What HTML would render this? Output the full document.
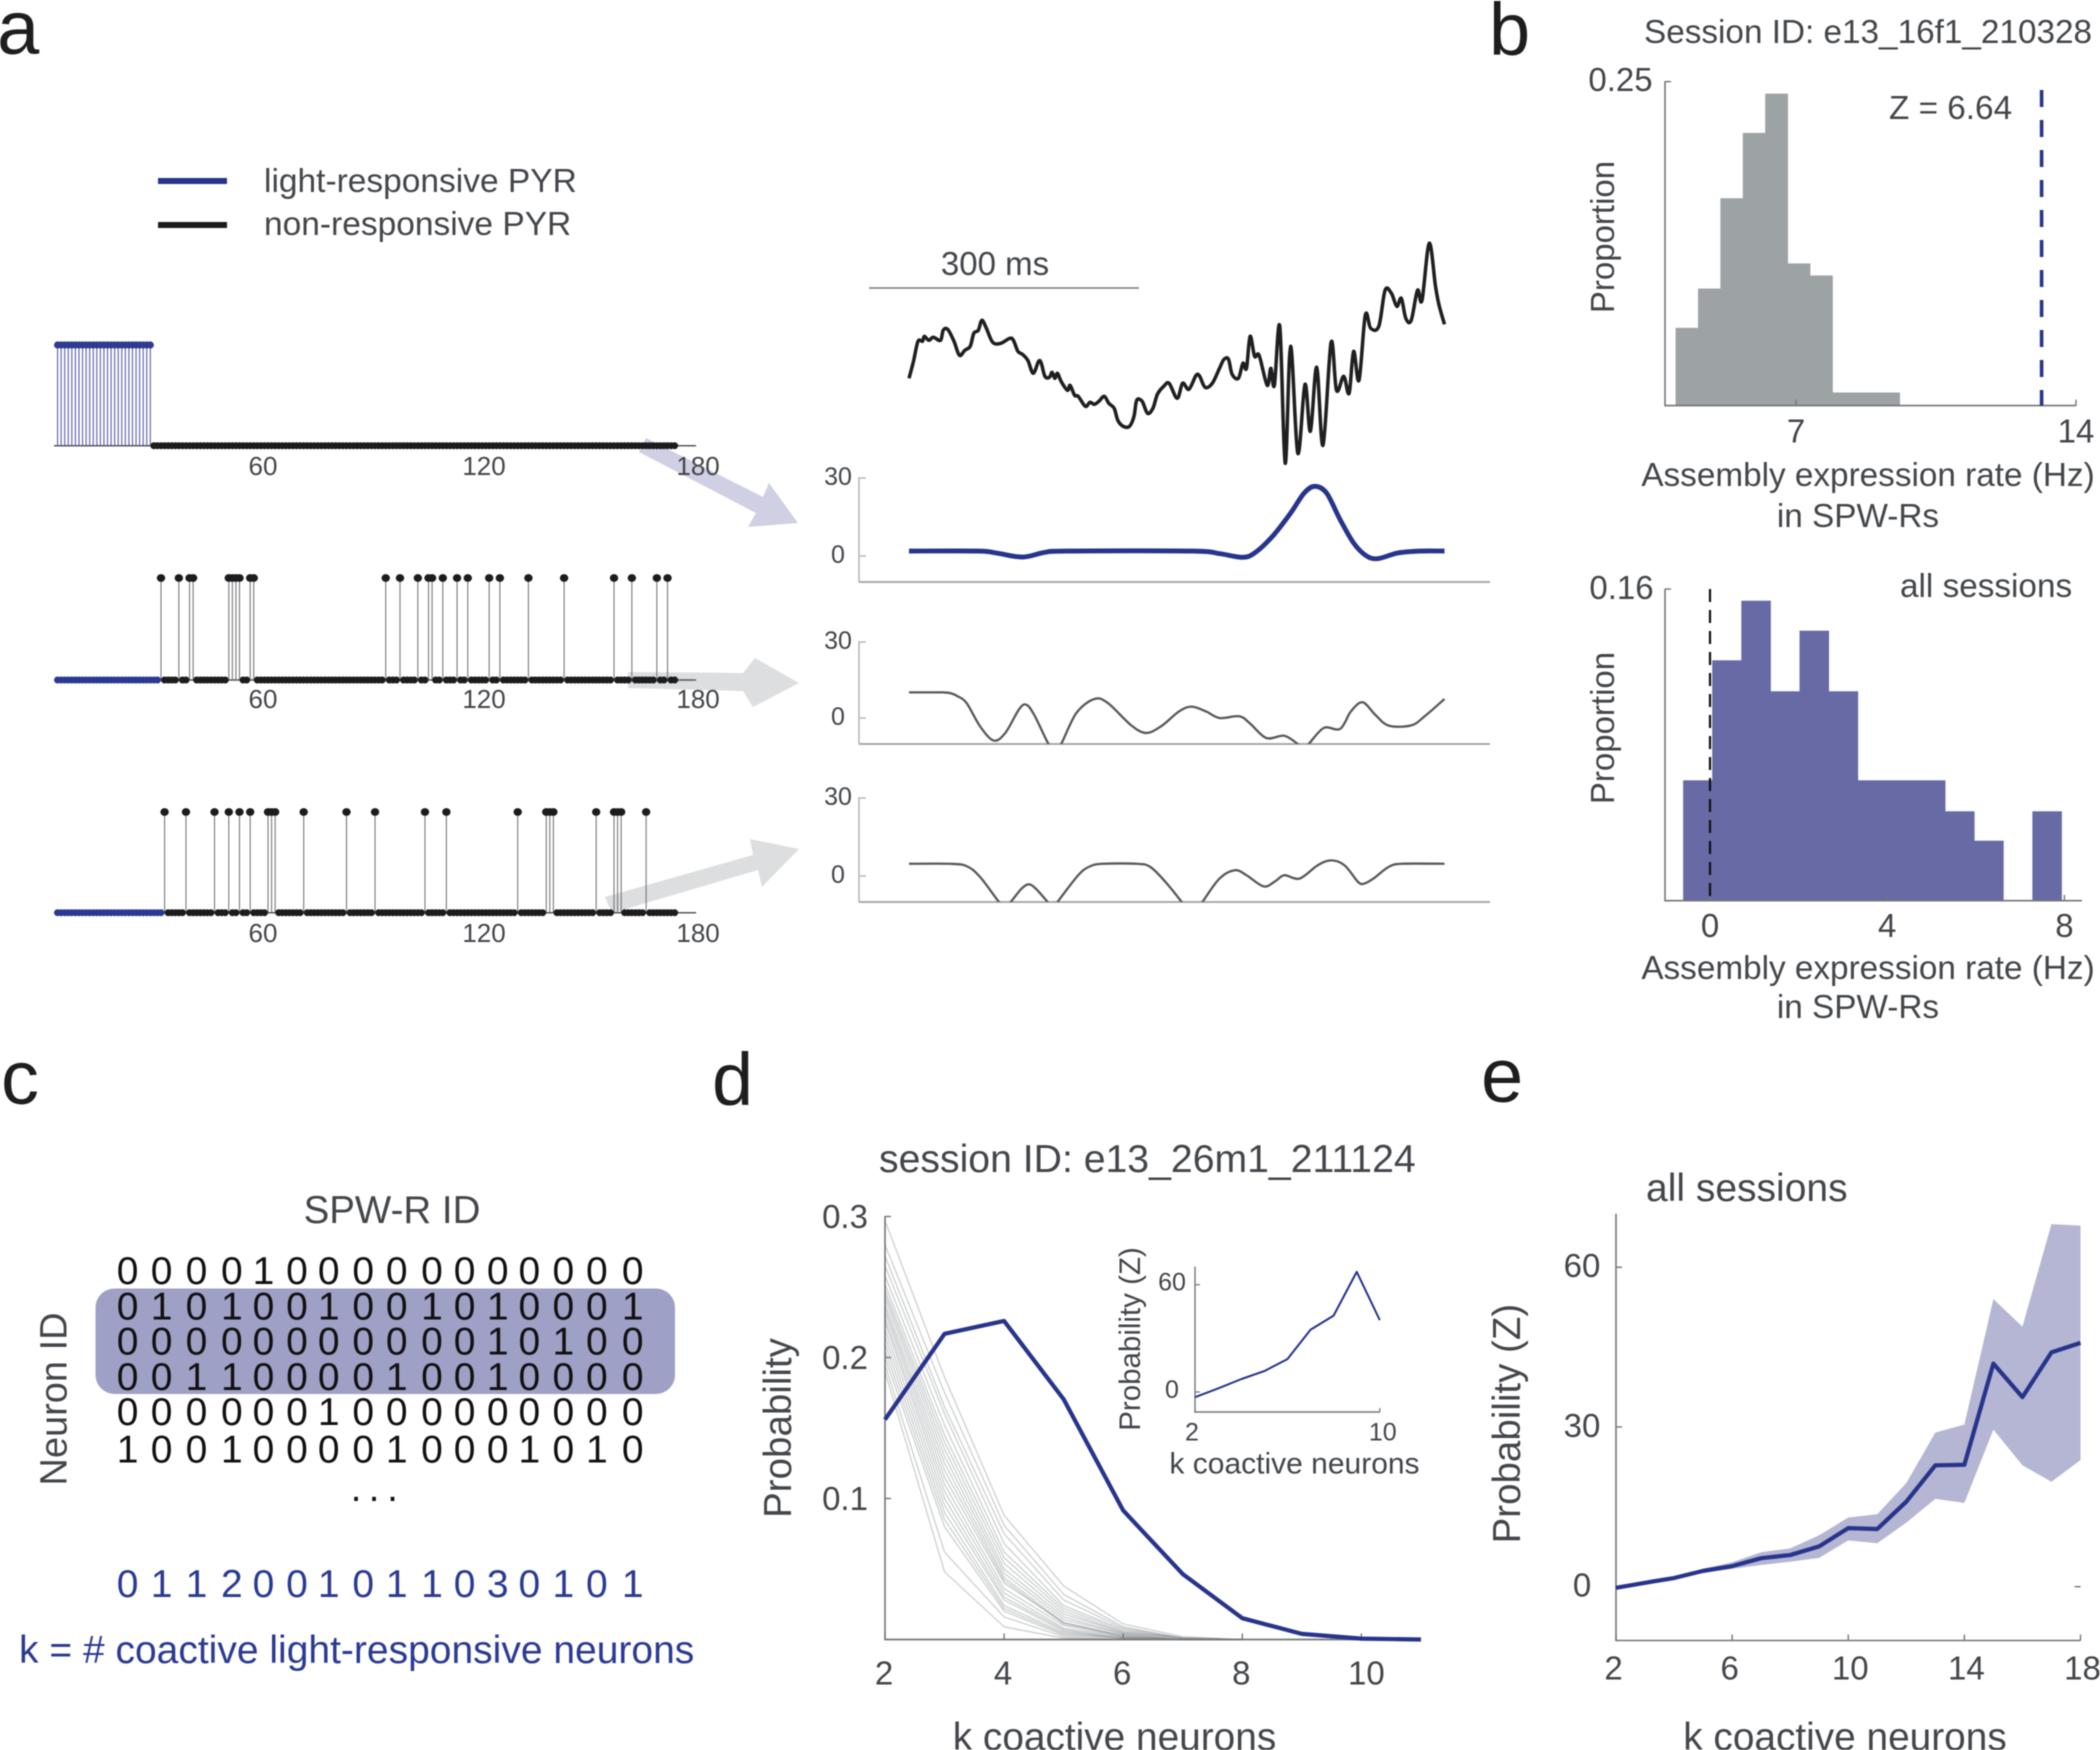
<!DOCTYPE html>
<html lang="en">
<head>
<meta charset="utf-8">
<title>Assembly expression figure</title>
<style>
html,body{margin:0;padding:0;background:#fff;}
svg{display:block;filter:blur(0.5px);}
text{font-family:"Liberation Sans",sans-serif;fill:#43464a;}
.panel-letter{fill:#1e1e20;}
.digits{fill:#111;font-size:39px;text-anchor:middle;}
.blue{fill:#2a3a92;}
</style>
</head>
<body>
<svg id="figure" width="2100" height="1750" viewBox="0 0 2100 1750">
  <rect x="0" y="0" width="2100" height="1750" fill="#fff"/>
  <defs>
    <clipPath id="clip-rate-2"><rect x="859" y="600" width="640" height="144"/></clipPath>
    <clipPath id="clip-rate-3"><rect x="859" y="780" width="640" height="122"/></clipPath>
  </defs>

  <!-- panel letters -->
  <text class="panel-letter" x="-3" y="54" font-size="76">a</text>
  <text class="panel-letter" x="1489" y="55" font-size="74">b</text>
  <text class="panel-letter" x="1" y="1104" font-size="76">c</text>
  <text class="panel-letter" x="712" y="1105" font-size="74">d</text>
  <text class="panel-letter" x="1481" y="1102" font-size="76">e</text>

  <!-- panel a: arrows, legend -->
  <g>
    <polygon fill="#cfd0e3" points="646,438 763,497 769,483 798,523 748,527 756,513 639,452"/>
    <polygon fill="#dcdedf" points="628,672 743,673 755,658 799,683 753,707 743,691 628,688"/>
    <polygon fill="#dcdedf" points="605,897 753,855 750,839 799,849 762,887 758,870 612,913"/>

    <line x1="158" x2="227" y1="181" y2="181" stroke="#27348b" stroke-width="6"/>
    <text x="264" y="192" font-size="33.5">light-responsive PYR</text>
    <line x1="158" x2="227" y1="225" y2="225" stroke="#1c1c1e" stroke-width="6"/>
    <text x="264" y="235" font-size="33.5">non-responsive PYR</text>

    <g id="raster-1"></g>
    <g id="raster-2"></g>
    <g id="raster-3"></g>

    <line x1="869" x2="1139" y1="288" y2="288" stroke="#77797c" stroke-width="1.6"/>
    <text x="995" y="275" font-size="33" text-anchor="middle">300 ms</text>
    <g id="lfp"></g>
    <g id="rate-1"></g>
    <g id="rate-2"></g>
    <g id="rate-3"></g>
  </g>

  <!-- panel b -->
  <g>
    <text x="1644" y="43" font-size="33.3">Session ID: e13_16f1_210328</text>
    <g id="hist-top"></g>
    <text x="1889" y="119" font-size="33.3">Z = 6.64</text>
    <text transform="translate(1614,237) rotate(-90)" font-size="33" text-anchor="middle">Proportion</text>
    <text x="1868" y="486" font-size="33.3" text-anchor="middle">Assembly expression rate (Hz)</text>
    <text x="1858" y="527" font-size="33.3" text-anchor="middle">in SPW-Rs</text>

    <g id="hist-bottom"></g>
    <text x="1900" y="597" font-size="33.3">all sessions</text>
    <text transform="translate(1614,728) rotate(-90)" font-size="33" text-anchor="middle">Proportion</text>
    <text x="1868" y="979" font-size="33.3" text-anchor="middle">Assembly expression rate (Hz)</text>
    <text x="1858" y="1018" font-size="33.3" text-anchor="middle">in SPW-Rs</text>
  </g>

  <!-- panel c -->
  <g>
    <text x="392" y="1223" font-size="38.5" text-anchor="middle">SPW-R ID</text>
    <text transform="translate(66.6,1399) rotate(-90)" font-size="38" text-anchor="middle">Neuron ID</text>
    <rect x="95.5" y="1288.5" width="579.5" height="105.5" rx="19" ry="19" fill="#9fa0c6"/>
    <text class="digits" y="1284" x="127.6 161.6 196.5 231.9 263.5 297 328.7 363.2 396.7 432 464.6 497.7 529.4 563.4 596.9 632.7">0000100000000000</text>
    <text class="digits" y="1319.5" x="127.6 161.6 196.5 231.9 263.5 297 328.7 363.2 396.7 432 464.6 497.7 529.4 563.4 596.9 632.7">0101001001010001</text>
    <text class="digits" y="1354.7" x="127.6 161.6 196.5 231.9 263.5 297 328.7 363.2 396.7 432 464.6 497.7 529.4 563.4 596.9 632.7">0000000000010100</text>
    <text class="digits" y="1390" x="127.6 161.6 196.5 231.9 263.5 297 328.7 363.2 396.7 432 464.6 497.7 529.4 563.4 596.9 632.7">0011000010010000</text>
    <text class="digits" y="1425" x="127.6 161.6 196.5 231.9 263.5 297 328.7 363.2 396.7 432 464.6 497.7 529.4 563.4 596.9 632.7">0000001000000000</text>
    <text class="digits" y="1462.5" x="127.6 161.6 196.5 231.9 263.5 297 328.7 363.2 396.7 432 464.6 497.7 529.4 563.4 596.9 632.7">1001000010001010</text>
    <text class="digits" y="1501" x="356 374 392.5">...</text>
    <text class="digits blue" y="1597" x="127.6 161.6 196.5 231.9 263.5 297 328.7 363.2 396.7 432 464.6 497.7 529.4 563.4 596.9 632.7">0112001011030101</text>
    <text class="blue" x="19" y="1663" font-size="39">k = # coactive light-responsive neurons</text>
  </g>

  <!-- panel d -->
  <g>
    <text x="879" y="1172" font-size="39.2">session ID: e13_26m1_211124</text>
    <g id="prob-chart"></g>
    <text transform="translate(791,1428) rotate(-90)" font-size="38.5" text-anchor="middle">Probability</text>
    <text x="1114.5" y="1750" font-size="38.8" text-anchor="middle">k coactive neurons</text>
    <g id="inset-chart"></g>
    <text transform="translate(1140,1339) rotate(-90)" font-size="29.5" text-anchor="middle">Probability (Z)</text>
    <text x="1294.5" y="1473.6" font-size="30" text-anchor="middle">k coactive neurons</text>
  </g>

  <!-- panel e -->
  <g>
    <text x="1646" y="1201" font-size="39">all sessions</text>
    <g id="z-chart"></g>
    <text transform="translate(1520,1423.6) rotate(-90)" font-size="38.5" text-anchor="middle">Probability (Z)</text>
    <text x="1845" y="1750" font-size="38.8" text-anchor="middle">k coactive neurons</text>
  </g>
</svg>

<script>
/* ---------- Panel a: raster data (neuron indices) ---------- */
const rasterTickLabels = [60, 120, 180];
const raster1Spikes = [1,2,3,4,5,6,7,8,9,10,11,12,13,14,15,16,17,18,19,20,21,22,23,24,25,26,27];
const raster2Spikes = [30,35,38,39,49,50,51,52,55,56,93,97,102,105,106,109,113,116,122,125,133,143,157,162,169,172];
const raster3Spikes = [31,37,45,49,52,55,60,61,62,70,82,90,104,110,130,138,139,140,152,157,158,159,166];
const rasterLightCounts = [27, 29, 30];
const rasterNeuronCount = [174];

/* ---------- Panel a: LFP trace (ms, uV-like units) ---------- */
const lfpTime = [0,5,10,15,17,22,27,35,38,43,50,56,62,68,72,77,81,86,93,102,112,116,121,126,132,138,144,147,151,156,159,162,165,169,176,179,184,188,196,201,206,211,217,222,228,232,238,245,250,253,259,265,271,276,283,289,298,304,311,319,323,329,337,345,350,355,359,366,371,375,379,384,389,398,402,406,412,418,424,432,440,446,453,460,469,475,483,489,494,500,507,513,522,529,536,542,547,552,558,565,570,578,585,589,595];
const lfpValue = [85,102,122,122,127,123,126,123,133,134,122,108,113,117,130,133,143,135,121,120,125,123,112,109,103,90,102,100,87,86,91,85,90,82,73,78,68,67,57,61,59,62,67,60,55,43,37,37,47,63,62,50,55,69,77,80,65,80,74,88,87,76,80,95,104,104,89,85,100,95,127,107,108,78,95,78,137,0,117,10,79,32,96,18,121,73,87,70,112,83,148,135,137,173,170,157,165,145,143,173,163,220,177,158,139];

/* ---------- Panel a: rate curves (Hz) ---------- */
const rateTicks = [0, 30];
const rate1Time = [0,77,97,126,151,176,315,345,370,384,404,424,439,451,464,479,494,508,521,543,568,595];
const rate1Value = [1.9,1.9,1.15,-0.4,1.4,1.9,1.9,0.9,-0.5,1.15,7.6,16.5,24.2,26.8,24.2,14,5,0.1,-1,1.15,1.9,1.9];
const rate2Time = [0,20,38,46,54,64,79,94,107,122,130,139,155,162,169,186,206,221,246,263,280,300,314,330,345,367,379,397,417,432,438,444,461,479,491,504,518,533,558,573,595];
const rate2Value = [10.1,10.1,10.1,9.8,8.6,5.9,-3.3,-8.9,-5.9,3.3,5.3,1.3,-10.3,-13,-10.3,2,7.5,5.9,-2.6,-5.9,-3.3,2.6,4.5,2.6,0,0.7,-2.2,-7.9,-7,-10.3,-12,-10.3,-3.9,-4.3,2.6,6.2,1.3,-3,-2.9,0.7,7.5];
const rate3Time = [0,45,64,79,100,107,113,125,133,141,154,160,165,188,201,216,253,268,285,303,315,326,345,362,375,394,407,417,434,454,469,484,499,506,516,533,548,595];
const rate3Value = [4.7,4.7,3.8,-0.4,-10,-12,-10,-4.9,-3.2,-4.9,-10,-12.6,-10,0.3,3.7,4.7,4.7,3.5,-2.3,-10,-15.8,-10,-1,2.2,0.3,-4,-2,0.3,-1,4.1,6,4.1,-2.3,-2.9,-1,3.5,4.7,4.7];

/* ---------- Panel b: histograms ---------- */
const histTopStart = [3.99];
const histTopBinWidth = [0.56];
const histTopValues = [0.060,0.0903,0.160,0.2104,0.2407,0.1097,0.1004,0.0101,0.0101,0.0101];
const histTopXTicks = [7, 14];
const histTopYTicks = ['0.25'];
const histTopObserved = [13.14];

const histBottomStart = [-0.607];
const histBottomBinWidth = [0.657];
const histBottomValues = [0.0618,0.1234,0.154,0.1075,0.1386,0.1075,0.0618,0.0618,0.0618,0.0459,0.0308,0,0.0459];
const histBottomXTicks = [0, 4, 8];
const histBottomYTicks = ['0.16'];

/* ---------- Panel d: probability ---------- */
const probK = [2,3,4,5,6,7,8,9,10,11];
const probObserved = [0.156,0.2168,0.2259,0.1704,0.0915,0.0464,0.0151,0.004,0.0006,0];
const probShuffleK = [2,3,4,5,6,7,8];
const probShuffle01 = [.297,.186,.088,.038,.011,.002,0];
const probShuffle02 = [.280,.175,.081,.032,.009,.001,0];
const probShuffle03 = [.272,.165,.075,.028,.008,.001,0];
const probShuffle04 = [.265,.160,.068,.024,.007,.001,0];
const probShuffle05 = [.258,.152,.062,.022,.006,.001,0];
const probShuffle06 = [.252,.145,.058,.020,.005,.001,0];
const probShuffle07 = [.248,.140,.054,.018,.005,.001,0];
const probShuffle08 = [.245,.135,.050,.016,.004,0,0];
const probShuffle09 = [.242,.130,.047,.014,.004,0,0];
const probShuffle10 = [.238,.125,.044,.012,.003,0,0];
const probShuffle11 = [.235,.120,.042,.011,.003,0,0];
const probShuffle12 = [.232,.115,.040,.012,.002,0,0];
const probShuffle13 = [.228,.110,.036,.010,.002,0,0];
const probShuffle14 = [.225,.105,.033,.008,.002,0,0];
const probShuffle15 = [.220,.100,.030,.007,.001,0,0];
const probShuffle16 = [.215,.095,.028,.006,.001,0,0];
const probShuffle17 = [.210,.090,.024,.005,.001,0,0];
const probShuffle18 = [.205,.085,.022,.004,.001,0,0];
const probShuffle19 = [.200,.080,.020,.003,.001,0,0];
const probShuffle20 = [.195,.062,.016,.002,0,0,0];
const probShuffle21 = [.190,.048,.009,.001,0,0,0];
const probXTicks = [2,4,6,8,10];
const probYTicks = ['0.1','0.2','0.3'];

const insetK = [2,3,4,5,6,7,8,9,10];
const insetZ = [-2.9,2,7.2,11.7,18.4,34.8,42.7,67.2,40.2];
const insetXTicks = [2,10];
const insetYTicks = [0,60];

/* ---------- Panel e: z-scored probability ---------- */
const zK = [2,3,4,5,6,7,8,9,10,11,12,13,14,15,16,17,18];
const zMean = [-0.2,0.74,1.63,2.97,3.86,5.35,5.94,7.57,11,10.84,15.96,22.8,22.9,41.9,35.6,44,45.8];
const zUpper = [-0.2,0.89,1.86,3.34,4.6,6.46,7.2,9.65,13,13.6,19.45,28.95,30.44,54,48.85,68.1,67.8];
const zLower = [-0.2,0.6,1.41,2.6,3.34,4.08,4.68,5.42,8.69,8.17,12.03,16.5,15.74,29.5,22.8,19.7,23.76];
const zXTicks = [2,6,10,14,18];
const zYTicks = [0,30,60];

/* ---------- helpers ---------- */
const root = document.getElementById('figure');
const AXIS = '#74767a';
const BLUE = '#27348b';
function el(tag, attrs, parent) {
  const e = document.createElementNS(root.namespaceURI, tag);
  for (const k in attrs) e.setAttribute(k, attrs[k]);
  parent.appendChild(e);
  return e;
}
function linearPath(xs, ys) {
  return xs.map((x, i) => (i ? 'L' : 'M') + x.toFixed(2) + ' ' + ys[i].toFixed(2)).join(' ');
}
function smoothPath(xs, ys) {
  let d = 'M' + xs[0].toFixed(2) + ' ' + ys[0].toFixed(2);
  for (let i = 0; i < xs.length - 1; i++) {
    const i0 = Math.max(i - 1, 0), i3 = Math.min(i + 2, xs.length - 1);
    const c1x = xs[i] + (xs[i + 1] - xs[i0]) / 6, c1y = ys[i] + (ys[i + 1] - ys[i0]) / 6;
    const c2x = xs[i + 1] - (xs[i3] - xs[i]) / 6, c2y = ys[i + 1] - (ys[i3] - ys[i]) / 6;
    d += ' C' + c1x.toFixed(2) + ' ' + c1y.toFixed(2) + ' ' + c2x.toFixed(2) + ' ' + c2y.toFixed(2) + ' ' + xs[i + 1].toFixed(2) + ' ' + ys[i + 1].toFixed(2);
  }
  return d;
}
function drawLine(parent, x1, y1, x2, y2, color, width, name) {
  const l = el('line', {x1: x1, y1: y1, x2: x2, y2: y2, stroke: color, 'stroke-width': width}, parent);
  
  
  return l;
}
function drawLabel(parent, str, x, y, size, name) {
  const t = el('text', {x: x, y: y, 'font-size': size, 'text-anchor': 'middle'}, parent);
  t.textContent = str;
  
  
  return t;
}
function drawCurve(parent, d, color, width, name) {
  const p = el('path', {d: d, fill: 'none', stroke: color, 'stroke-width': width, 'stroke-linejoin': 'round', 'stroke-linecap': 'butt'}, parent);
  
  
  return p;
}

/* ---------- rasters ---------- */
const rasterX = n => 54 + 3.567 * n;
function drawRaster(id, spikes, lightCount, baseY, topY, labelY, stemColor, headColor, isLight) {
  const g = document.getElementById(id);
  drawLine(g, rasterX(0), baseY, rasterX(180), baseY, '#55575a', 1.5, 'raster-baseline');
  spikes.forEach(n => {
    drawLine(g, rasterX(n), baseY, rasterX(n), topY, stemColor, 1.1, 'spike-stem');
  });
  for (let n = 1; n <= rasterNeuronCount[0]; n++) {
    if (spikes.includes(n)) continue;
    const dot = el('circle', {cx: rasterX(n), cy: baseY, r: 3.5, fill: n <= lightCount && !isLight ? '#2a3a92' : '#1c1c1e'}, g);
    
    
  }
  spikes.forEach(n => {
    const head = el('ellipse', {cx: rasterX(n), cy: topY, rx: isLight ? 3.6 : 4.2, ry: isLight ? 3.6 : 3.9, fill: headColor}, g);
    
    
  });
  rasterTickLabels.forEach(v => {
    drawLabel(g, v, rasterX(v) - (v === 60 ? 5 : v === 120 ? -2 : -2), labelY, 26, 'raster-tick-label');
  });
}
drawRaster('raster-1', raster1Spikes, rasterLightCounts[0], 445.7, 345, 475, '#5a5ea8', '#2f3b92', true);
drawRaster('raster-2', raster2Spikes, rasterLightCounts[1], 680, 578, 708, '#77797c', '#1c1c1e', false);
drawRaster('raster-3', raster3Spikes, rasterLightCounts[2], 912.7, 812, 942, '#77797c', '#1c1c1e', false);

/* ---------- LFP and rate panels ---------- */
const traceX = t => 909 + 0.9 * t;
const lfpY = v => 463.3 - v;
drawCurve(document.getElementById('lfp'), smoothPath(lfpTime.map(traceX), lfpValue.map(lfpY)), '#1f1f21', 3.5, 'lfp-trace');

function drawRatePanel(id, times, values, topY, zeroY, bottomY, color, width, clip, name) {
  const g = document.getElementById(id);
  const y = v => zeroY - (zeroY - topY) / 30 * v;
  drawLine(g, 859, topY - 0.7, 859, bottomY, '#b4b5b7', 1.5, 'rate-y-axis');
  drawLine(g, 859, bottomY, 1490, bottomY, '#a9aaac', 2, 'rate-x-axis');
  rateTicks.forEach(v => {
    drawLine(g, 859, y(v), 866, y(v), '#b4b5b7', 1.4, 'rate-y-tick');
    drawLabel(g, v, 838, y(v) + 7, 25, 'rate-y-tick-label');
  });
  const c = drawCurve(g, smoothPath(times.map(traceX), values.map(y)), color, width, name);
  if (clip) c.setAttribute('clip-path', 'url(#' + clip + ')');
}
drawRatePanel('rate-1', rate1Time, rate1Value, 478, 556, 582, BLUE, 4.8, null, 'rate-curve-light-responsive');
drawRatePanel('rate-2', rate2Time, rate2Value, 642, 718, 744, '#58595c', 2.3, 'clip-rate-2', 'rate-curve-non-responsive-1');
drawRatePanel('rate-3', rate3Time, rate3Value, 798, 876, 902, '#58595c', 2.3, 'clip-rate-3', 'rate-curve-non-responsive-2');

/* ---------- histograms ---------- */
function drawHistogram(id, start, binWidth, values, xOf, yOf, color, baseY, name) {
  const g = document.getElementById(id);
  values.forEach((v, i) => {
    if (v <= 0) return;
    const x0 = xOf(start + i * binWidth), x1 = xOf(start + (i + 1) * binWidth);
    const bar = el('rect', {x: x0, y: yOf(v), width: x1 - x0 + 0.4, height: baseY - yOf(v), fill: color}, g);
    
    
  });
  return g;
}
const hTopX = v => 1796 + 40 * (v - 7);
const hTopY = v => 405.6 - 1296 * v;
const gTop = drawHistogram('hist-top', histTopStart[0], histTopBinWidth[0], histTopValues, hTopX, hTopY, '#9da2a5', 405.6, 'hist-session-bar');
drawLine(gTop, 1665, 81, 1665, 406.3, AXIS, 1.6, 'hist-top-y-axis');
drawLine(gTop, 1665, 405.6, 2076, 405.6, AXIS, 1.6, 'hist-top-x-axis');
histTopYTicks.forEach(v => {
  drawLine(gTop, 1665, hTopY(+v), 1671, hTopY(+v), AXIS, 1.4, 'hist-top-y-tick');
  drawLabel(gTop, v, 1620.5, hTopY(+v) + 9.5, 33, 'hist-top-y-tick-label');
});
histTopXTicks.forEach(v => {
  drawLine(gTop, hTopX(v), 405.6, hTopX(v), 399.6, AXIS, 1.4, 'hist-top-x-tick');
  drawLabel(gTop, v, hTopX(v), 442.5, 33, 'hist-top-x-tick-label');
});
const observedLine = drawLine(gTop, hTopX(histTopObserved[0]), 90, hTopX(histTopObserved[0]), 405.6, BLUE, 3.6, 'observed-rate-line');
observedLine.setAttribute('stroke-dasharray', '17 13');

const hBotX = v => 1710 + 44.3 * v;
const hBotY = v => 900.7 - 1948 * v;
const gBot = drawHistogram('hist-bottom', histBottomStart[0], histBottomBinWidth[0], histBottomValues, hBotX, hBotY, '#686aa5', 900.7, 'hist-all-sessions-bar');
drawLine(gBot, 1665, 589, 1665, 901.4, AXIS, 1.6, 'hist-bottom-y-axis');
drawLine(gBot, 1665, 900.7, 2082, 900.7, AXIS, 1.6, 'hist-bottom-x-axis');
histBottomYTicks.forEach(v => {
  drawLine(gBot, 1665, hBotY(+v), 1671, hBotY(+v), AXIS, 1.4, 'hist-bottom-y-tick');
  drawLabel(gBot, v, 1621.5, hBotY(+v) + 10, 33, 'hist-bottom-y-tick-label');
});
histBottomXTicks.forEach(v => {
  drawLine(gBot, hBotX(v), 900.7, hBotX(v), 895, AXIS, 1.4, 'hist-bottom-x-tick');
  drawLabel(gBot, v, hBotX(v), 937, 33, 'hist-bottom-x-tick-label');
});
const zeroLine = drawLine(gBot, hBotX(0), 589, hBotX(0), 900.7, '#111', 2.2, 'zero-rate-line');
zeroLine.setAttribute('stroke-dasharray', '13 8');

/* ---------- panel d ---------- */
const probX = k => 885 + 59.55 * (k - 2);
const probY = v => 1639.5 - 1410 * v;
const gProb = document.getElementById('prob-chart');
[probShuffle01,probShuffle02,probShuffle03,probShuffle04,probShuffle05,probShuffle06,probShuffle07,probShuffle08,probShuffle09,probShuffle10,probShuffle11,probShuffle12,probShuffle13,probShuffle14,probShuffle15,probShuffle16,probShuffle17,probShuffle18,probShuffle19,probShuffle20,probShuffle21].forEach(series => {
  const p = drawCurve(gProb, linearPath(probShuffleK.map(probX), series.map(probY)), '#8b8f92', 1.3, 'shuffled-probability-line');
  p.setAttribute('stroke-opacity', '0.42');
});
drawLine(gProb, 885, 1216, 885, 1640.2, AXIS, 1.6, 'prob-y-axis');
drawLine(gProb, 885, 1639.5, 1421, 1639.5, AXIS, 1.8, 'prob-x-axis');
probYTicks.forEach(v => {
  drawLine(gProb, 885, probY(+v), 891, probY(+v), AXIS, 1.4, 'prob-y-tick');
  drawLabel(gProb, v, 845, probY(+v) + 11.5, 33, 'prob-y-tick-label');
});
probXTicks.forEach(v => {
  drawLine(gProb, probX(v), 1639.5, probX(v), 1633.5, AXIS, 1.4, 'prob-x-tick');
  drawLabel(gProb, v, probX(v) + (v === 10 ? 5 : -1), 1684.5, 33, 'prob-x-tick-label');
});
drawCurve(gProb, linearPath(probK.map(probX), probObserved.map(probY)), BLUE, 4.2, 'observed-probability-line');

const insetX = k => 1195 + 23.1 * (k - 2);
const insetY = v => 1392 - 1.788 * v;
const gInset = document.getElementById('inset-chart');
drawLine(gInset, 1195, 1266.6, 1195, 1412.7, AXIS, 1.4, 'inset-y-axis');
drawLine(gInset, 1195, 1412, 1380, 1412, AXIS, 1.4, 'inset-x-axis');
insetYTicks.forEach(v => {
  drawLine(gInset, 1195, insetY(v), 1200, insetY(v), AXIS, 1.2, 'inset-y-tick');
  drawLabel(gInset, v, 1172, insetY(v) + 6, 25, 'inset-y-tick-label');
});
insetXTicks.forEach(v => {
  drawLine(gInset, insetX(v), 1412, insetX(v), 1408, AXIS, 1.2, 'inset-x-tick');
  drawLabel(gInset, v, insetX(v) - (v === 2 ? 3 : -3), 1440.6, 25, 'inset-x-tick-label');
});
drawCurve(gInset, linearPath(insetK.map(insetX), insetZ.map(insetY)), BLUE, 2, 'inset-probability-line');

/* ---------- panel e ---------- */
const zX = k => 1616 + 29.03 * (k - 2);
const zY = v => 1586.7 - 5.325 * v;
const gZ = document.getElementById('z-chart');
const band = el('polygon', {fill: '#b5b6d3', points: zK.map((k, i) => zX(k).toFixed(2) + ',' + zY(zUpper[i]).toFixed(2)).concat(zK.slice().reverse().map((k, i) => zX(k).toFixed(2) + ',' + zY(zLower[zK.length - 1 - i]).toFixed(2))).join(' ')}, gZ);


drawLine(gZ, 1616, 1213.8, 1616, 1641.2, AXIS, 1.6, 'z-y-axis');
drawLine(gZ, 1616, 1640.5, 2080.6, 1640.5, AXIS, 1.6, 'z-x-axis');
zYTicks.forEach(v => {
  drawLine(gZ, 1616, zY(v), 1622, zY(v), AXIS, 1.4, 'z-y-tick');
  drawLabel(gZ, v, 1582, zY(v) + 10, 33, 'z-y-tick-label');
});
drawLine(gZ, 2074.5, zY(0), 2080.6, zY(0), AXIS, 1.4, 'z-right-tick');
zXTicks.forEach(v => {
  drawLine(gZ, zX(v), 1640.5, zX(v), 1634.5, AXIS, 1.4, 'z-x-tick');
  drawLabel(gZ, v, zX(v) + (v > 8 ? 2 : -2.5), 1679.6, 33, 'z-x-tick-label');
});
drawCurve(gZ, linearPath(zK.map(zX), zMean.map(zY)), BLUE, 4.2, 'mean-probability-line');
</script>
</body>
</html>
